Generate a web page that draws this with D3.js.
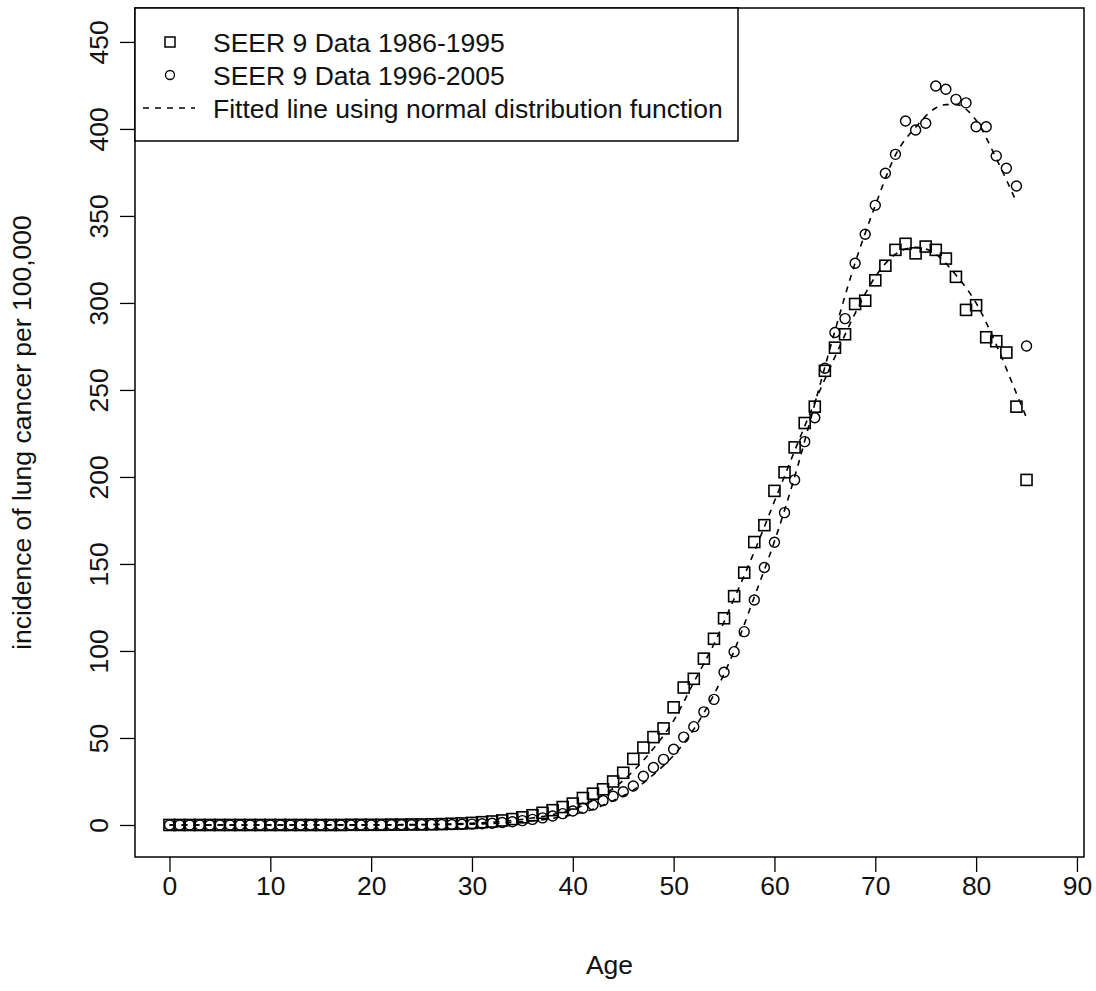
<!DOCTYPE html>
<html>
<head>
<meta charset="utf-8">
<script src="https://cdn.jsdelivr.net/npm/d3@7"></script>
<style>
  body { margin: 0; background: #fff; }
  svg text { font-family: "Liberation Sans", Arial, sans-serif; fill: #111; }
</style>
</head>
<body>
<div class="graph"></div>
<script>
const width = 1096;
const height = 991;
const fontSize = "26.5px";

const ages = [
  0, 1, 2, 3, 4, 5, 6, 7, 8, 9, 10, 11, 12, 13, 14, 15, 16, 17, 18, 19,
  20, 21, 22, 23, 24, 25, 26, 27, 28, 29, 30, 31, 32, 33, 34, 35, 36, 37, 38, 39,
  40, 41, 42, 43, 44, 45, 46, 47, 48, 49, 50, 51, 52, 53, 54, 55, 56, 57, 58, 59,
  60, 61, 62, 63, 64, 65, 66, 67, 68, 69, 70, 71, 72, 73, 74, 75, 76, 77, 78, 79,
  80, 81, 82, 83, 84, 85,
];

// SEER 9 1986-1995 (squares)
const seer8695 = [
  0, 0, 0, 0, 0, 0, 0, 0, 0, 0, 0, 0, 0, 0, 0, 0, 0, 0, 0.1, 0.1,
  0.1, 0.1, 0.2, 0.2, 0.3, 0.3, 0.4, 0.5, 0.7, 0.9, 1.2, 1.6, 2.0, 2.6, 3.4, 4.4, 5.6, 7.0, 8.5, 10.3,
  12.3, 15.5, 18.0, 20.5, 25.0, 30.0, 38.0, 44.5, 50.5, 55.5, 67.6, 79.0, 84.0, 95.6, 107.0, 118.8, 131.5, 145.0, 162.6, 172.3,
  192.0, 202.7, 217.0, 231.0, 240.4, 261.0, 274.3, 282.0, 299.4, 301.3, 313.0, 321.4, 330.5, 334.0, 328.5, 332.4, 330.5, 325.5, 315.0, 296.0,
  298.7, 280.3, 278.0, 271.5, 240.4, 198.3,
];

// SEER 9 1996-2005 (circles)
const seer9605 = [
  0, 0, 0, 0, 0, 0, 0, 0, 0, 0, 0, 0, 0, 0, 0, 0, 0, 0, 0, 0,
  0, 0, 0.1, 0.1, 0.1, 0.2, 0.2, 0.3, 0.3, 0.4, 0.5, 0.7, 1.0, 1.4, 1.9, 2.5, 3.2, 4.1, 5.2, 6.5,
  8.0, 9.6, 11.5, 14.0, 16.5, 19.1, 22.4, 28.0, 33.0, 37.7, 43.5, 50.5, 56.5, 65.0, 72.2, 87.8, 99.6, 111.1, 129.3, 148.0,
  162.5, 179.5, 198.3, 220.3, 234.0, 262.5, 283.0, 291.0, 322.8, 339.5, 356.1, 374.5, 385.4, 404.6, 399.4, 403.3, 424.7, 422.8, 417.0, 415.0,
  401.3, 401.3, 384.5, 377.4, 367.2, 275.3,
];

// fitted curves
const fitAges8695 = [0, 10, 20, 25, 30, 33, 36, 38, 40, 42, 44, 46, 48, 50, 52, 54, 56, 58, 60, 62, 64, 66, 68, 70, 72, 74, 76, 78, 80, 82, 84, 85];
const fit8695 = [0, 0, 0.1, 0.3, 1, 2, 4, 6, 9, 14, 21, 31, 44, 60, 82, 104, 130, 157, 186, 215, 243, 269, 294, 315, 328, 332, 328, 316, 300, 276, 248, 234];

const fitAges9605 = [0, 10, 20, 25, 30, 33, 36, 38, 40, 42, 44, 46, 48, 50, 52, 54, 56, 58, 60, 62, 64, 66, 68, 70, 72, 74, 76, 77, 78, 80, 82, 84];
const fit9605 = [0, 0, 0, 0.1, 0.5, 1.1, 2.4, 3.8, 6, 9, 14, 20, 29, 40, 55, 75, 100, 131, 163, 200, 242, 284, 323, 356, 385, 401, 412, 414, 414, 405, 383, 358];

const xTicks = [0, 10, 20, 30, 40, 50, 60, 70, 80, 90];
const yTicks = [0, 50, 100, 150, 200, 250, 300, 350, 400, 450];

const legendLabels = [
  "SEER 9 Data 1986-1995",
  "SEER 9 Data 1996-2005",
  "Fitted line using normal distribution function",
];

const plot = { left: 135, right: 1084, top: 8, bottom: 857 };

const xScale = d3.scaleLinear().domain([-3.42, 90.7]).range([plot.left, plot.right]);
const yScale = d3.scaleLinear().domain([-18.4, 469.5]).range([plot.bottom, plot.top]);

const svg = d3
  .select(".graph")
  .append("svg")
  .attr("width", width)
  .attr("height", height);

svg
  .append("rect")
  .attr("width", width)
  .attr("height", height)
  .attr("fill", "#fff");

const line = d3
  .line()
  .x((d) => xScale(d[0]))
  .y((d) => yScale(d[1]))
  .curve(d3.curveMonotoneX);

svg
  .append("path")
  .datum(fitAges8695.map((a, i) => [a, fit8695[i]]))
  .attr("d", line)
  .attr("fill", "none")
  .attr("stroke", "#000")
  .attr("stroke-width", 1.6)
  .attr("stroke-dasharray", "6,6");

svg
  .append("path")
  .datum(fitAges9605.map((a, i) => [a, fit9605[i]]))
  .attr("d", line)
  .attr("fill", "none")
  .attr("stroke", "#000")
  .attr("stroke-width", 1.6)
  .attr("stroke-dasharray", "6,6");

const sq = 11;

svg
  .selectAll(".sq")
  .data(ages)
  .enter()
  .append("rect")
  .attr("class", "sq")
  .attr("x", (d) => xScale(d) - sq / 2)
  .attr("y", (d, i) => yScale(seer8695[i]) - sq / 2)
  .attr("width", sq)
  .attr("height", sq)
  .attr("fill", "none")
  .attr("stroke", "#000")
  .attr("stroke-width", 1.6);

svg
  .selectAll(".ci")
  .data(ages)
  .enter()
  .append("circle")
  .attr("class", "ci")
  .attr("cx", (d) => xScale(d))
  .attr("cy", (d, i) => yScale(seer9605[i]))
  .attr("r", 5)
  .attr("fill", "none")
  .attr("stroke", "#000")
  .attr("stroke-width", 1.4);

// axes
const xAxis = d3.axisBottom(xScale).tickValues(xTicks).tickSize(15).tickSizeOuter(0);
const yAxis = d3.axisLeft(yScale).tickValues(yTicks).tickSize(15).tickSizeOuter(0);

const gx = svg
  .append("g")
  .attr("transform", "translate(0," + plot.bottom + ")")
  .call(xAxis);
gx.select(".domain").remove();
gx.selectAll("line").attr("stroke", "#000").attr("stroke-width", 1.3);
gx.selectAll("text")
  .attr("y", 38)
  .attr("dy", 0)
  .style("font-size", fontSize)
  .style("font-family", "'Liberation Sans', Arial, sans-serif");

const gy = svg
  .append("g")
  .attr("transform", "translate(" + plot.left + ",0)")
  .call(yAxis);
gy.select(".domain").remove();
gy.selectAll("line").attr("stroke", "#000").attr("stroke-width", 1.3);
gy.selectAll("text")
  .attr("x", 0)
  .attr("dy", 0)
  .attr("transform", "translate(-27,0) rotate(-90)")
  .attr("text-anchor", "middle")
  .style("font-size", fontSize)
  .style("font-family", "'Liberation Sans', Arial, sans-serif");

svg
  .append("rect")
  .attr("x", plot.left)
  .attr("y", plot.top)
  .attr("width", plot.right - plot.left)
  .attr("height", plot.bottom - plot.top)
  .attr("fill", "none")
  .attr("stroke", "#000")
  .attr("stroke-width", 1.5);

svg
  .append("text")
  .attr("x", (plot.left + plot.right) / 2)
  .attr("y", 974)
  .attr("text-anchor", "middle")
  .style("font-size", fontSize)
  .text("Age");

svg
  .append("text")
  .attr("transform", "translate(31," + (plot.top + plot.bottom) / 2 + ") rotate(-90)")
  .attr("text-anchor", "middle")
  .style("font-size", fontSize)
  .text("incidence of lung cancer per 100,000");

// legend
const legend = svg.append("g").attr("id", "legend");

legend
  .append("rect")
  .attr("x", plot.left)
  .attr("y", plot.top)
  .attr("width", 603)
  .attr("height", 133)
  .attr("fill", "#fff")
  .attr("stroke", "#000")
  .attr("stroke-width", 1.5);

const rowY = [42, 75, 108];

legend
  .append("rect")
  .attr("x", 170 - 5)
  .attr("y", rowY[0] - 5)
  .attr("width", 10)
  .attr("height", 10)
  .attr("fill", "none")
  .attr("stroke", "#000")
  .attr("stroke-width", 1.5);

legend
  .append("circle")
  .attr("cx", 170)
  .attr("cy", rowY[1])
  .attr("r", 4.5)
  .attr("fill", "none")
  .attr("stroke", "#000")
  .attr("stroke-width", 1.3);

legend
  .append("line")
  .attr("x1", 143)
  .attr("x2", 195)
  .attr("y1", rowY[2])
  .attr("y2", rowY[2])
  .attr("stroke", "#000")
  .attr("stroke-width", 1.6)
  .attr("stroke-dasharray", "6,6");

legend
  .selectAll(".legend-label")
  .data(legendLabels)
  .enter()
  .append("text")
  .attr("class", "legend-label")
  .attr("x", 213)
  .attr("y", (d, i) => rowY[i] + 9.5)
  .style("font-size", fontSize)
  .text((d) => d);
</script>
</body>
</html>
